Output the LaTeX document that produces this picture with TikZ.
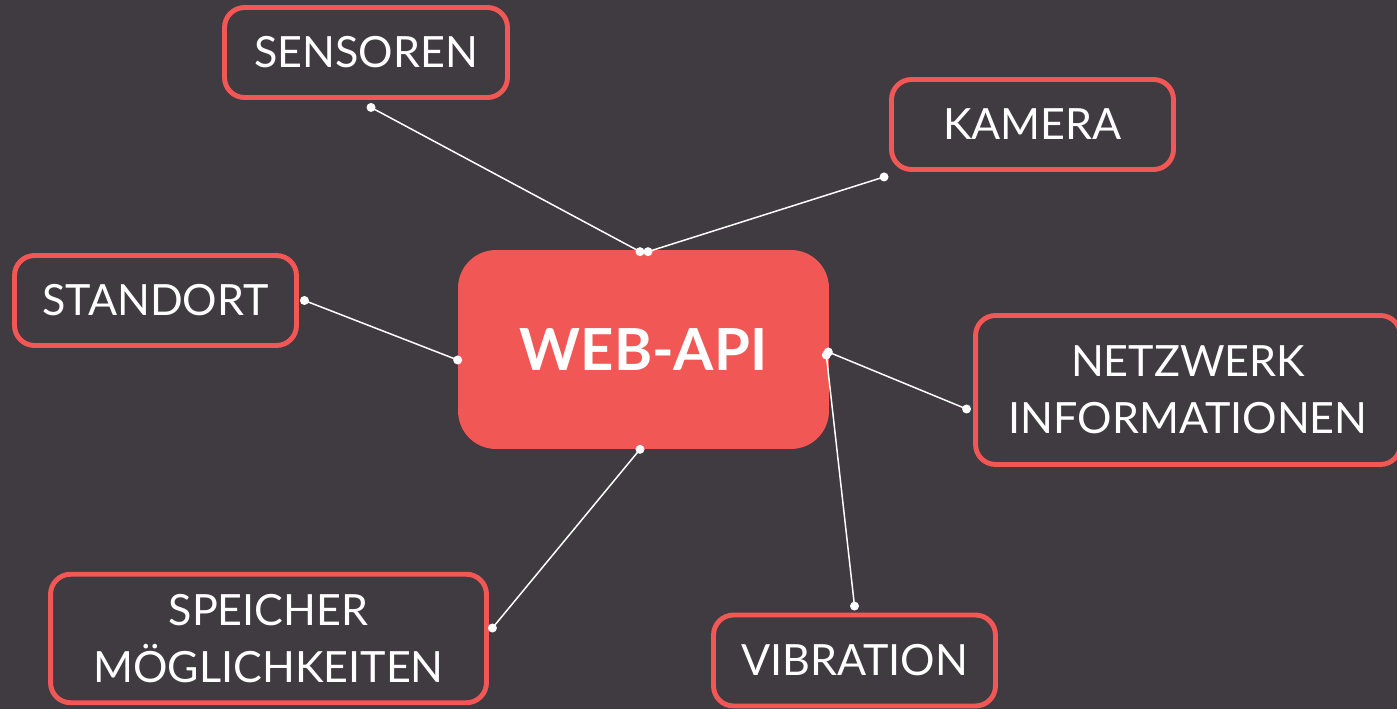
\documentclass[tikz,border=0pt]{standalone}
\usepackage{fontspec}
\usepackage{tikz}
\setmainfont{Lato}
\usetikzlibrary{calc}
\definecolor{uququq}{rgb}{0.251,0.227,0.255}
\definecolor{ffvvvv}{rgb}{0.945,0.345,0.333}
\definecolor{ffffff}{rgb}{1.,1.,1.}
\tikzstyle{every node}=[font=\fontsize{24.5}{32.5}\selectfont,text=ffffff]
\tikzstyle{topic}=[draw=ffvvvv,line width=2.8pt,rounded corners=0.4cm,fill=uququq,align=center,inner sep=0pt]
\tikzstyle{hub}=[fill=ffvvvv,rounded corners=0.76cm,minimum width=7.42cm,minimum height=3.98cm,font=\fontsize{33}{38}\selectfont\bfseries]
\tikzstyle{link}=[line width=0.85pt,color=ffffff]

\begin{document}
\begin{tikzpicture}[line cap=round,line join=round,x=0.02cm,y=-0.02cm]
\fill[uququq] (0,0) rectangle (1397,709);
\useasboundingbox (0,0) rectangle (1397,709);
\node[hub] (webapi) at (643.5,349.5) {WEB-API};
\node[topic,minimum width=5.66cm,minimum height=1.8cm] (sensoren) at (366,52.5) {SENSOREN};
\node[topic,minimum width=5.64cm,minimum height=1.8cm] (kamera) at (1032.5,124.5) {KAMERA};
\node[topic,minimum width=5.64cm,minimum height=1.8cm] (standort) at (155.5,300.5) {STANDORT};
\node[topic,minimum width=8.5cm,minimum height=2.98cm] (netzwerk) at (1188,390) {NETZWERK\\INFORMATIONEN};
\node[topic,minimum width=8.72cm,minimum height=2.57cm] (speicher) at (268.5,638.5) {SPEICHER\\MÖGLICHKEITEN};
\node[topic,minimum width=5.64cm,minimum height=1.82cm] (vibration) at (854.5,660.5) {VIBRATION};
% Verbindungen mit Punkten an beiden Enden
\coordinate (s1) at ([xshift=0.1cm,yshift=-0.15cm]sensoren.south);
\coordinate (w1) at ([xshift=-0.07cm,yshift=-0.04cm]webapi.north);
\coordinate (k1) at ([xshift=-0.1cm,yshift=-0.1cm]kamera.south west);
\coordinate (w2) at ([xshift=0.09cm,yshift=-0.04cm]webapi.north);
\coordinate (st1) at ([xshift=0.11cm]standort.east);
\coordinate (w3) at ([yshift=-0.21cm]webapi.west);
\coordinate (n1) at ([xshift=-0.13cm,yshift=-0.38cm]netzwerk.west);
\coordinate (w4) at ([xshift=-0.02cm,yshift=-0.05cm]webapi.east);
\coordinate (v1) at ([yshift=0.13cm]vibration.north);
\coordinate (w5) at ([xshift=-0.06cm,yshift=-0.11cm]webapi.east);
\coordinate (sp1) at ([xshift=0.07cm,yshift=0.21cm]speicher.east);
\coordinate (w6) at ([xshift=-0.07cm]webapi.south);
\draw [link] (s1) -- (w1);
\draw [link] (k1) -- (w2);
\draw [link] (st1) -- (w3);
\draw [link] (n1) -- (w4);
\draw [link] (v1) -- (w5);
\draw [link] (sp1) -- (w6);
\foreach \p in {s1,w1,k1,w2,st1,w3,n1,w4,v1,w5,sp1,w6}
  \fill [ffffff] (\p) circle (0.09cm);
\end{tikzpicture}
\end{document}
